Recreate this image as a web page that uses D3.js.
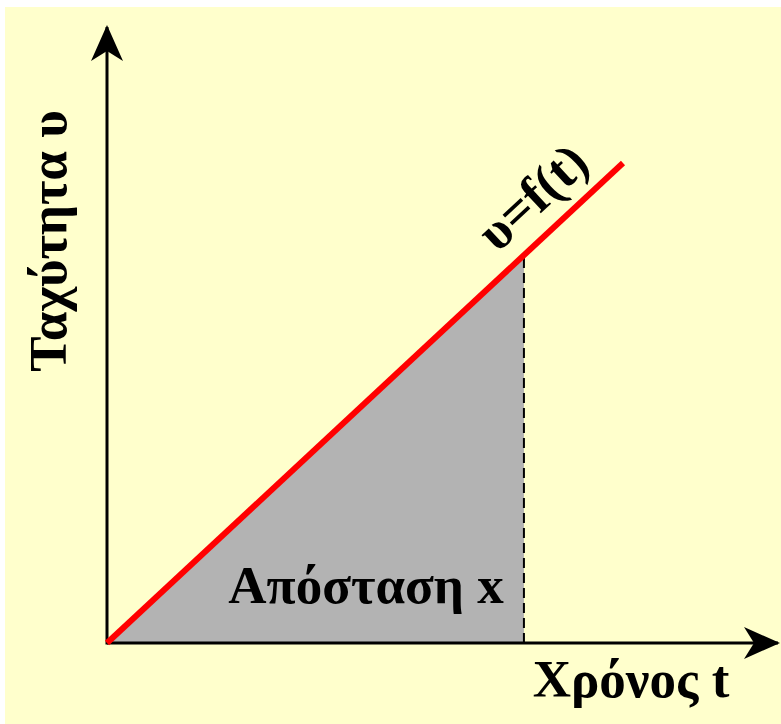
<!DOCTYPE html>
<html>
<head>
<meta charset="utf-8">
<script src="https://cdn.jsdelivr.net/npm/d3@7"></script>
<style>
  body { margin: 0; background: #ffffff; }
  text { font-family: "Liberation Serif", "Times New Roman", serif; font-weight: bold; fill: #000; }
</style>
</head>
<body>
<div id="chart"></div>
<script>
// data: velocity grows linearly with time
var lineTime = [0, 10];
var lineSpeed = [0, 10];
// area under the curve up to this time
var areaTime = [0, 8.08, 8.08];
var areaSpeed = [0, 8.08, 0];
var dashTime = [8.08, 8.08];
var dashSpeed = [0, 8.08];

var labels = {
  y: "Ταχύτητα υ",
  x: "Χρόνος t",
  area: "Απόσταση x",
  curve: "υ=f(t)"
};

var svgWidth = 781;
var svgHeight = 724;

var svg = d3.select("#chart")
  .append("svg")
  .attr("width", svgWidth)
  .attr("height", svgHeight);

// yellow panel (white strip left and top)
svg.append("rect")
  .attr("x", 5)
  .attr("y", 7)
  .attr("width", svgWidth - 5)
  .attr("height", svgHeight - 7)
  .attr("fill", "#ffffcc");

var xScale = d3.scaleLinear().domain([0, 10]).range([107, 623]);
var yScale = d3.scaleLinear().domain([0, 10]).range([643, 163]);

var lineData = lineTime.map((t, i) => [t, lineSpeed[i]]);
var areaData = areaTime.map((t, i) => [t, areaSpeed[i]]);
var dashData = dashTime.map((t, i) => [t, dashSpeed[i]]);

var line = d3.line()
  .x(d => xScale(d[0]))
  .y(d => yScale(d[1]));

// shaded distance
svg.append("path")
  .attr("d", line(areaData) + "Z")
  .attr("fill", "#b3b3b3");

// dashed drop line
svg.append("path")
  .attr("d", line(dashData))
  .attr("stroke", "#000")
  .attr("stroke-width", 2)
  .attr("stroke-dasharray", "10,5")
  .attr("fill", "none");

// arrow marker
var defs = svg.append("defs");
defs.append("marker")
  .attr("id", "arrow")
  .attr("viewBox", "0 0 36 32")
  .attr("refX", 34)
  .attr("refY", 16)
  .attr("markerWidth", 36)
  .attr("markerHeight", 32)
  .attr("markerUnits", "userSpaceOnUse")
  .attr("orient", "auto")
  .append("path")
  .attr("d", "M0,0 L36,16 L0,32 L10,16 Z")
  .attr("fill", "#000");

// axes
svg.append("line")
  .attr("x1", xScale(0))
  .attr("y1", yScale(0))
  .attr("x2", 778)
  .attr("y2", yScale(0))
  .attr("stroke", "#000")
  .attr("stroke-width", 3)
  .attr("marker-end", "url(#arrow)");

svg.append("line")
  .attr("x1", xScale(0))
  .attr("y1", yScale(0) + 1.5)
  .attr("x2", xScale(0))
  .attr("y2", 27)
  .attr("stroke", "#000")
  .attr("stroke-width", 3)
  .attr("marker-end", "url(#arrow)");

// red velocity line
svg.append("path")
  .attr("d", line(lineData))
  .attr("stroke", "#ff0000")
  .attr("stroke-width", 6)
  .attr("fill", "none");

// labels
svg.append("text")
  .attr("transform", "translate(66, 241) rotate(-90)")
  .attr("text-anchor", "middle")
  .attr("font-size", 53)
  .text(labels.y);

svg.append("text")
  .attr("x", 631)
  .attr("y", 697)
  .attr("text-anchor", "middle")
  .attr("font-size", 53)
  .text(labels.x);

svg.append("text")
  .attr("x", 366)
  .attr("y", 603)
  .attr("text-anchor", "middle")
  .attr("font-size", 53)
  .text(labels.area);

var angle = Math.atan2(yScale(10) - yScale(0), xScale(10) - xScale(0)) * 180 / Math.PI;
svg.append("text")
  .attr("transform", `translate(${xScale(8.4) + 4}, ${yScale(8.4) - 30}) rotate(${angle})`)
  .attr("text-anchor", "middle")
  .attr("font-size", 53)
  .text(labels.curve);
</script>
</body>
</html>
